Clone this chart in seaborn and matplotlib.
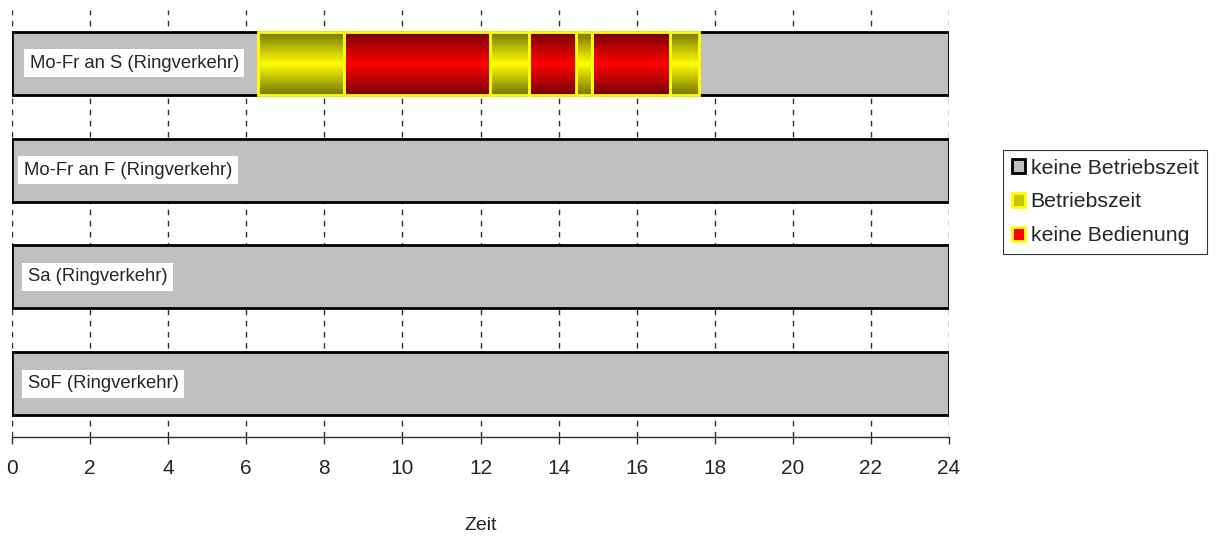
import numpy as np
import pandas as pd
import matplotlib
matplotlib.use("Agg")
import matplotlib.pyplot as plt
import seaborn as sns
from matplotlib.colors import LinearSegmentedColormap
from matplotlib.patches import Patch

# rows of the chart (top to bottom)
rows = ["Mo-Fr an S (Ringverkehr)", "Mo-Fr an F (Ringverkehr)", "Sa (Ringverkehr)", "SoF (Ringverkehr)"]
day_length = [24, 24, 24, 24]

# segments of the first row: start / end in hours and state
seg_start = [6.3, 8.5, 12.25, 13.25, 14.45, 14.85, 16.85]
seg_end = [8.5, 12.25, 13.25, 14.45, 14.85, 16.85, 17.6]
seg_state = ["Betriebszeit", "keine Bedienung", "Betriebszeit", "keine Bedienung",
             "Betriebszeit", "keine Bedienung", "Betriebszeit"]
seg_row = [0] * len(seg_start)

xticks = list(range(0, 25, 2))
label_x = [0.45, 0.3, 0.4, 0.4]

sns.set_style("white")
plt.rcParams["font.family"] = ["Liberation Sans", "DejaVu Sans"]

fig = plt.figure(figsize=(12.18, 5.36), dpi=100)
ax = fig.add_axes([12 / 1218, 99 / 536, 937 / 1218, 427 / 536])

bar_h = 0.59
base = pd.DataFrame({"row": rows, "hours": day_length})
sns.barplot(data=base, x="hours", y="row", orient="h", color="#C0C0C0",
            saturation=1, width=bar_h, edgecolor="black", linewidth=2, ax=ax, zorder=2)

cmaps = {
    "Betriebszeit": LinearSegmentedColormap.from_list("y", ["#767600", "#ffff00", "#767600"]),
    "keine Bedienung": LinearSegmentedColormap.from_list("r", ["#760000", "#ff0000", "#760000"]),
}
grad = np.linspace(0, 1, 256).reshape(-1, 1)
segs = pd.DataFrame({"row": seg_row, "start": seg_start, "end": seg_end, "state": seg_state})
for _, s in segs.iterrows():
    top, bottom = s["row"] - bar_h / 2, s["row"] + bar_h / 2
    ax.imshow(grad, cmap=cmaps[s["state"]], aspect="auto", interpolation="bicubic",
              extent=(s["start"], s["end"], bottom, top), zorder=3)
    ax.barh(s["row"], s["end"] - s["start"], left=s["start"], height=bar_h,
            facecolor="none", edgecolor="#ffff00", linewidth=2, zorder=4)

for i, name in enumerate(rows):
    ax.text(label_x[i], i, name, fontsize=13.3, va="center", ha="left", zorder=5,
            bbox=dict(facecolor="white", edgecolor="none", pad=4))

for x in xticks:
    ax.axvline(x, color="#303030", lw=1, ls=(0, (4, 4)), zorder=1)

ax.set_xlim(0, 24)
ax.set_ylim(3.5, -0.5)
ax.set_yticks([])
ax.set_ylabel("")
ax.set_xticks(xticks)
ax.tick_params(axis="x", direction="out", length=5, width=1, color="#303030",
               labelsize=15, pad=11, bottom=True)
ax.set_xlabel("Zeit", fontsize=14, labelpad=28)
for side in ["left", "right", "top"]:
    ax.spines[side].set_visible(False)
ax.spines["bottom"].set_color("#303030")
ax.spines["bottom"].set_linewidth(1)

handles = [
    Patch(facecolor="#C0C0C0", edgecolor="black", linewidth=2, label="keine Betriebszeit"),
    Patch(facecolor="#c8c800", edgecolor="#ffff00", linewidth=2, label="Betriebszeit"),
    Patch(facecolor="#ff0000", edgecolor="#ffff00", linewidth=2, label="keine Bedienung"),
]
leg = fig.legend(handles=handles, loc="upper left", bbox_to_anchor=(1003 / 1218, 1 - 150 / 536),
                 frameon=True, fancybox=False, fontsize=15.3, handlelength=0.65, handleheight=0.65,
                 handletextpad=0.25, borderpad=0.4, labelspacing=0.7, borderaxespad=0)
leg.get_frame().set_edgecolor("black")
leg.get_frame().set_linewidth(0.8)

fig.savefig("out.png", dpi=100)
